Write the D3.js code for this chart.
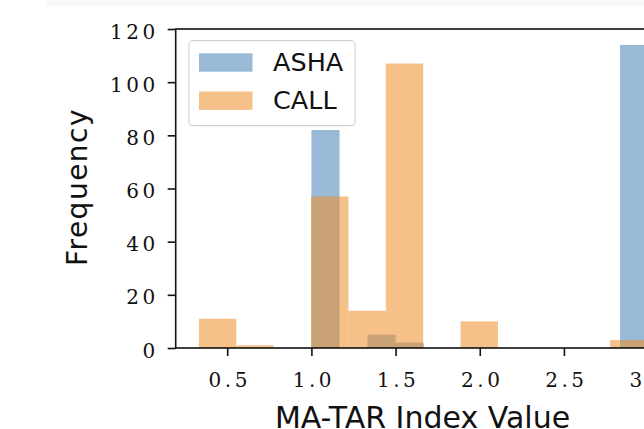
<!DOCTYPE html>
<html>
<head>
<meta charset="utf-8">
<script src="https://cdn.jsdelivr.net/npm/d3@7"></script>
<style>
  body { margin: 0; background: #fff; }
  svg { display: block; }
  .tick text { font-family: "DejaVu Serif", serif; font-size: 20px; letter-spacing: 3.5px; fill: #111; }
</style>
</head>
<body>
<div id="chart"></div>
<script>
// histogram bin edges and counts
var seriesNames = ["ASHA", "CALL"];
var ashaEdges = [1.000, 1.167, 1.333, 1.500, 1.667, 1.833, 2.000, 2.167, 2.333, 2.500, 2.667, 2.833, 3.000];
var ashaCounts = [82, 0, 5, 2, 0, 0, 0, 0, 0, 0, 0, 114];
var callEdges = [0.332, 0.554, 0.776, 0.998, 1.220, 1.442, 1.664, 1.886, 2.108, 2.330, 2.552, 2.774, 2.996];
var callCounts = [11, 1, 0, 57, 14, 107, 0, 10, 0, 0, 0, 3];
var xTicks = [0.5, 1.0, 1.5, 2.0, 2.5, 3.0];
var yTicks = [0, 20, 40, 60, 80, 100, 120];

var width = 644, height = 429;
var margin = { left: 175.7, right: 670, top: 29, bottom: 348 };

var colors = { ASHA: "rgba(70,130,180,0.55)", CALL: "rgba(238,140,40,0.55)" };

var svg = d3.select("#chart").append("svg")
    .attr("width", width)
    .attr("height", height);

// faint band at the very top of the picture
svg.append("rect")
    .attr("x", 47).attr("y", 0)
    .attr("width", width - 47).attr("height", 6)
    .attr("fill", "#f8f8f8");

var x = d3.scaleLinear().domain([0.194, 3.13]).range([margin.left, margin.right]);
var y = d3.scaleLinear().domain([0, 120]).range([margin.bottom, margin.top]);

function bins(edges, counts) {
    return counts.map(function(c, i) { return { x0: edges[i], x1: edges[i + 1], n: c }; })
        .filter(function(d) { return d.n > 0; });
}

var series = [
    { name: "ASHA", data: bins(ashaEdges, ashaCounts) },
    { name: "CALL", data: bins(callEdges, callCounts) }
];

var plot = svg.append("g");

series.forEach(function(s) {
    plot.selectAll("rect." + s.name)
        .data(s.data)
        .enter()
        .append("rect")
        .attr("class", s.name)
        .attr("x", d => x(d.x0))
        .attr("y", d => y(d.n))
        .attr("width", d => x(d.x1) - x(d.x0))
        .attr("height", d => y(0) - y(d.n))
        .attr("fill", colors[s.name]);
});

// axes
var xAxis = d3.axisBottom(x).tickValues(xTicks).tickFormat(d3.format(".1f")).tickSize(8).tickPadding(17);
var yAxis = d3.axisLeft(y).tickValues(yTicks).tickFormat(d3.format("d")).tickSize(8).tickPadding(9);

svg.append("g")
    .attr("transform", "translate(0," + margin.bottom + ")")
    .call(xAxis)
    .call(g => g.select(".domain").remove())
    .call(g => g.selectAll(".tick line").attr("stroke", "#111").attr("stroke-width", 1.6))
    .call(g => g.selectAll(".tick text").attr("dx", "2px"));

svg.append("g")
    .attr("transform", "translate(" + margin.left + ",0)")
    .call(yAxis)
    .call(g => g.select(".domain").remove())
    .call(g => g.selectAll(".tick line").attr("stroke", "#111").attr("stroke-width", 1.6))
    .call(g => g.selectAll(".tick text").attr("dy", "0.45em"));

// spines
svg.append("rect")
    .attr("x", margin.left).attr("y", margin.top)
    .attr("width", margin.right - margin.left).attr("height", margin.bottom - margin.top)
    .attr("fill", "none")
    .attr("stroke", "#111")
    .attr("stroke-width", 1.6);

// axis titles
svg.append("text")
    .attr("x", 422.5).attr("y", 428)
    .attr("text-anchor", "middle")
    .attr("font-family", "DejaVu Sans, sans-serif")
    .attr("font-size", "30px")
    .attr("fill", "#111")
    .text("MA-TAR Index Value");

svg.append("text")
    .attr("transform", "translate(86.5,187) rotate(-90)")
    .attr("text-anchor", "middle")
    .attr("font-family", "DejaVu Sans, sans-serif")
    .attr("font-size", "28px")
    .attr("letter-spacing", "1.5px")
    .attr("fill", "#111")
    .text("Frequency");

// legend
var legend = svg.append("g");
legend.append("rect")
    .attr("x", 189).attr("y", 40.7)
    .attr("width", 166).attr("height", 85)
    .attr("rx", 4)
    .attr("fill", "rgba(255,255,255,0.85)")
    .attr("stroke", "#d3d3d3")
    .attr("stroke-width", 1.2);

legend.selectAll("rect.patch")
    .data(seriesNames)
    .enter()
    .append("rect")
    .attr("class", "patch")
    .attr("x", 199)
    .attr("y", (d, i) => 53.3 + i * 38.2)
    .attr("width", 53.5)
    .attr("height", 18.4)
    .attr("fill", d => colors[d]);

legend.selectAll("text")
    .data(seriesNames)
    .enter()
    .append("text")
    .attr("x", 273)
    .attr("y", (d, i) => 70.7 + i * 38.2)
    .attr("font-family", "DejaVu Sans, sans-serif")
    .attr("font-size", "25.5px")
    .attr("fill", "#111")
    .text(d => d);
</script>
</body>
</html>
